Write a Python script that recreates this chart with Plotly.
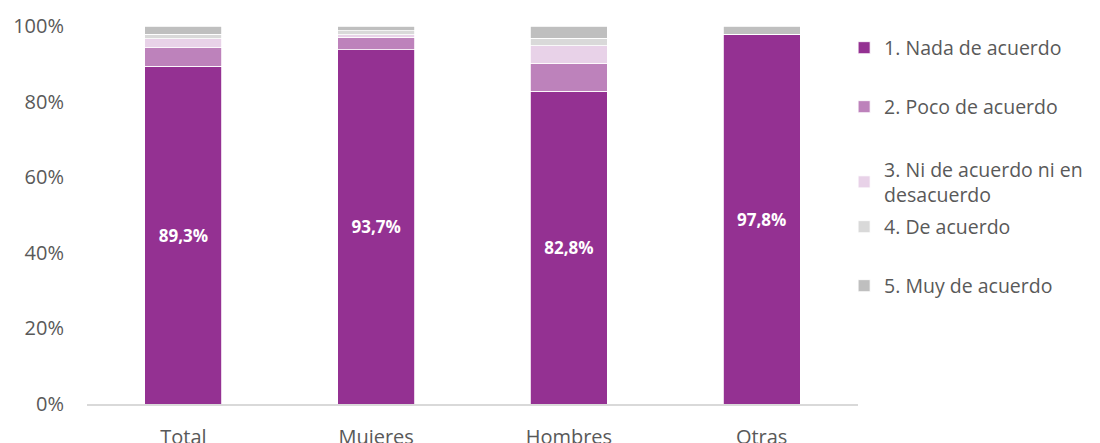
import plotly.graph_objects as go

categories = ["Total", "Mujeres", "Hombres", "Otras"]
series_names = [
    "1. Nada de acuerdo",
    "2. Poco de acuerdo",
    "3. Ni de acuerdo ni en<br>desacuerdo",
    "4. De acuerdo",
    "5. Muy de acuerdo",
]
nada = [89.3, 93.7, 82.8, 97.8]
poco = [5.0, 3.3, 7.4, 0.0]
ni = [2.3, 0.7, 4.6, 0.0]
de_acuerdo = [1.2, 1.0, 2.0, 0.0]
muy = [2.2, 1.3, 3.2, 2.2]
y_ticks = [0, 20, 40, 60, 80, 100]

series_values = [nada, poco, ni, de_acuerdo, muy]
colors = ["#943192", "#BD82BB", "#E8D2E8", "#D9D9D9", "#BFBFBF"]
FONT = "Open Sans"
TEXT = "#595959"

fig = go.Figure()
legend_names = ["legend", "legend2", "legend3", "legend4", "legend5"]
for i, (name, vals, col) in enumerate(zip(series_names, series_values, colors)):
    fig.add_trace(go.Bar(
        x=categories,
        y=vals,
        name=name,
        marker=dict(color=col, line=dict(color="white", width=0.8)),
        texttemplate="<b>%{y:.1f}%</b>" if i == 0 else None,
        textposition="inside" if i == 0 else "none",
        insidetextanchor="middle",
        textfont=dict(color="white", size=17, family=FONT),
        legend=legend_names[i],
        showlegend=True,
        hoverinfo="skip",
    ))

# one legend per series, stacked at fixed slots to the right of the plot
plot_bottom, plot_h = 404, 378
legend_rows = [48, 107, 182, 227, 286]
layout_legends = {}
for ln, ypx in zip(legend_names, legend_rows):
    layout_legends[ln] = dict(
        x=0.982, xanchor="left",
        y=(plot_bottom - ypx) / plot_h, yanchor="middle",
        font=dict(family=FONT, size=19.5, color=TEXT),
        bgcolor="rgba(0,0,0,0)",
        itemclick=False, itemdoubleclick=False,
    )

fig.update_layout(
    barmode="stack",
    bargap=0.6,
    width=1100, height=443,
    margin=dict(l=87, r=240, t=26, b=39),
    paper_bgcolor="white",
    plot_bgcolor="white",
    separators=",.",
    showlegend=True,
    font=dict(family=FONT, color=TEXT, size=18),
    **layout_legends,
)
fig.update_yaxes(
    range=[0, 100],
    tickvals=y_ticks,
    ticktext=[f"{v}%" for v in y_ticks],
    showgrid=False,
    zeroline=False,
    showline=False,
    automargin=False,
    tickfont=dict(family=FONT, size=20, color=TEXT),
    ticklabelstandoff=22,
)
fig.update_xaxes(
    showline=True, linecolor="#D9D9D9", linewidth=1.5,
    showgrid=False,
    automargin=False,
    tickfont=dict(family=FONT, size=20, color=TEXT),
    ticklabelstandoff=14,
)

fig.write_html("out.html")
